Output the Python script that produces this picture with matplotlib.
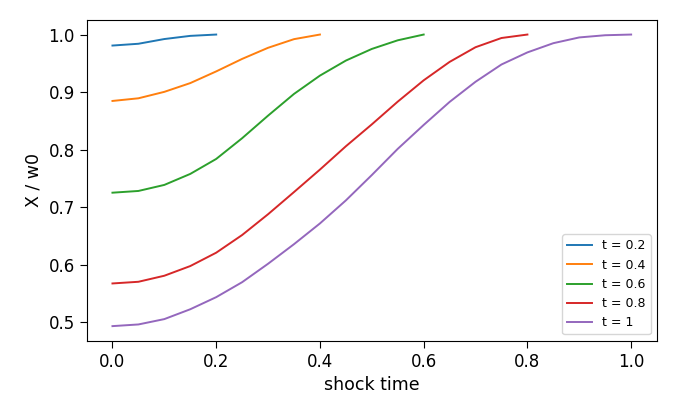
import numpy as np
import matplotlib
matplotlib.use("Agg")
import matplotlib.pyplot as plt

# values, shock time step 0.05
s_02 = [0.0, 0.05, 0.1, 0.15, 0.2]
x_02 = [0.9809, 0.9840, 0.9922, 0.9977, 1.0]

s_04 = [0.0, 0.05, 0.1, 0.15, 0.2, 0.25, 0.3, 0.35, 0.4]
x_04 = [0.8847, 0.8893, 0.9005, 0.9157, 0.9360, 0.9577, 0.9770, 0.9920, 1.0]

s_06 = [0.0, 0.05, 0.1, 0.15, 0.2, 0.25, 0.3, 0.35, 0.4, 0.45, 0.5, 0.55, 0.6]
x_06 = [0.7254, 0.7284, 0.7389, 0.7580, 0.7840, 0.8200, 0.8592, 0.8969,
        0.9287, 0.9548, 0.9750, 0.9900, 1.0]

s_08 = [0.0, 0.05, 0.1, 0.15, 0.2, 0.25, 0.3, 0.35, 0.4, 0.45, 0.5, 0.55,
        0.6, 0.65, 0.7, 0.75, 0.8]
x_08 = [0.5678, 0.5707, 0.5812, 0.5980, 0.6212, 0.6519, 0.6880, 0.7265,
        0.7655, 0.8060, 0.8440, 0.8835, 0.9205, 0.9525, 0.9780, 0.9940, 1.0]

s_10 = [0.0, 0.05, 0.1, 0.15, 0.2, 0.25, 0.3, 0.35, 0.4, 0.45, 0.5, 0.55,
        0.6, 0.65, 0.7, 0.75, 0.8, 0.85, 0.9, 0.95, 1.0]
x_10 = [0.4937, 0.4966, 0.5059, 0.5230, 0.5440, 0.5700, 0.6020, 0.6360,
        0.6720, 0.7120, 0.7560, 0.8015, 0.8430, 0.8830, 0.9180, 0.9480,
        0.9690, 0.9850, 0.9950, 0.9988, 1.0]

labels = ["t = 0.2", "t = 0.4", "t = 0.6", "t = 0.8", "t = 1"]
series = [(s_02, x_02), (s_04, x_04), (s_06, x_06), (s_08, x_08), (s_10, x_10)]

fig, ax = plt.subplots(figsize=(6.76, 4.16), dpi=100)
fig.subplots_adjust(left=0.128, right=0.972, bottom=0.181, top=0.952)

for (s, x), lab in zip(series, labels):
    ax.plot(s, x, label=lab, linewidth=1.4)

ax.set_xlabel("shock time", fontsize=12.5)
ax.set_ylabel("X / w0", fontsize=12.5)
ax.tick_params(labelsize=12, length=5)
ax.legend(loc="lower right", fontsize=9)

fig.savefig("out.png", dpi=100)
